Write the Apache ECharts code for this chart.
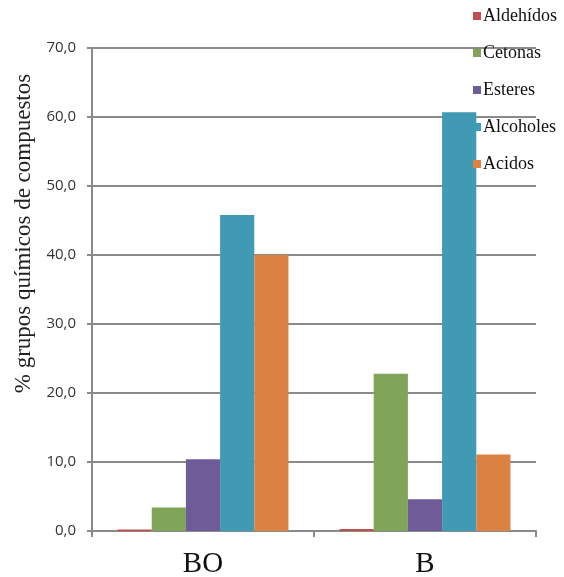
<!DOCTYPE html>
<html>
<head>
<meta charset="utf-8">
<script src="https://cdn.jsdelivr.net/npm/echarts@6/dist/echarts.min.js"></script>
<style>
  html, body { margin: 0; padding: 0; background: #fff; }
  #chart { width: 564px; height: 577px; }
</style>
</head>
<body>
<div id="chart"></div>
<script>
// Samples and compound groups
const categories = ['BO', 'B'];
const seriesNames = ['Aldehídos', 'Cetonas', 'Esteres', 'Alcoholes', 'Acidos'];
const aldehidos = [0.2, 0.3];
const cetonas = [3.4, 22.8];
const esteres = [10.4, 4.6];
const alcoholes = [45.8, 60.7];
const acidos = [40.0, 11.1];
const colors = ['#c0504d', '#80a559', '#705b99', '#409ab3', '#da8243'];

const values = [aldehidos, cetonas, esteres, alcoholes, acidos];
const serif = '"Liberation Serif", "DejaVu Serif", serif';

const chart = echarts.init(document.getElementById('chart'));
chart.setOption({
  animation: false,
  grid: { left: 92, right: 28, top: 48, bottom: 46, outerBoundsMode: 'none', containLabel: false },
  legend: {
    orient: 'vertical',
    left: 468,
    top: 2,
    icon: 'rect',
    itemWidth: 8,
    itemHeight: 8,
    itemGap: 19,
    data: seriesNames,
    textStyle: { fontFamily: serif, fontSize: 18, color: '#111', lineHeight: 18, padding: [0, 0, 0, -3] }
  },
  xAxis: {
    type: 'category',
    data: categories,
    axisLine: { lineStyle: { color: '#8a8a8a', width: 2 } },
    axisTick: { show: true, length: 6, lineStyle: { color: '#8a8a8a', width: 2 } },
    axisLabel: { fontFamily: serif, fontSize: 29, color: '#111', margin: 19 }
  },
  yAxis: {
    type: 'value',
    min: 0,
    max: 70,
    interval: 10,
    name: '% grupos químicos de compuestos',
    nameLocation: 'middle',
    nameGap: 44,
    nameTextStyle: { fontFamily: serif, fontSize: 23, color: '#222', padding: [0, 0, 0, 112] },
    axisLine: { show: true, lineStyle: { color: '#8a8a8a', width: 2 } },
    axisTick: { show: true, length: 5, lineStyle: { color: '#8a8a8a', width: 2 } },
    axisLabel: {
      fontFamily: '"Open Sans", "Liberation Sans", sans-serif',
      fontSize: 15,
      color: '#333',
      margin: 16,
      formatter: v => v.toFixed(1).replace('.', ',')
    },
    splitLine: { lineStyle: { color: '#8a8a8a', width: 2 } }
  },
  series: seriesNames.map((name, i) => ({
    name,
    type: 'bar',
    data: values[i],
    barGap: '0%',
    barCategoryGap: '23%',
    itemStyle: { color: colors[i] }
  }))
});
</script>
</body>
</html>
